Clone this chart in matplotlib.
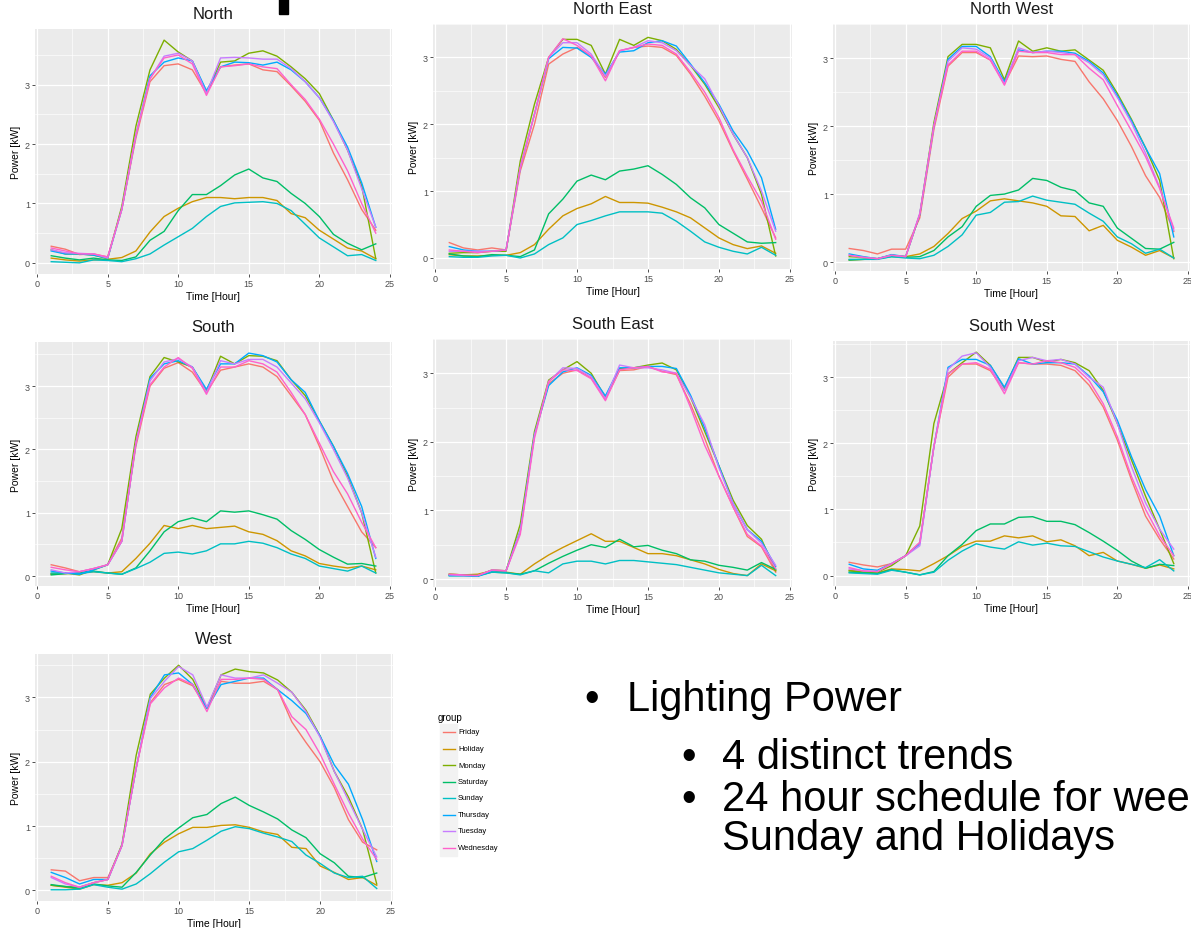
import numpy as np
import matplotlib
matplotlib.use("Agg")
import matplotlib.pyplot as plt
from matplotlib.lines import Line2D
from matplotlib.patches import Rectangle

plt.rcParams['font.family'] = ['Liberation Sans', 'DejaVu Sans']

hours = list(range(1, 25))
groups = ["Friday", "Holiday", "Monday", "Saturday", "Sunday", "Thursday", "Tuesday", "Wednesday"]
colors = ["#F8766D", "#CD9600", "#7CAE00", "#00BE67", "#00BFC4", "#00A9FF", "#C77CFF", "#FF61CC"]
panels = ["North", "North East", "North West", "South", "South East", "South West", "West"]
x_ticks = [0, 5, 10, 15, 20, 25]
y_ticks = [0, 1, 2, 3]

# ---- North ----
n_fri = [0.28,0.23,0.14,0.15,0.10,0.90,2.10,3.05,3.32,3.35,3.25,2.85,3.30,3.33,3.35,3.25,3.22,2.98,2.72,2.40,1.85,1.40,0.90,0.55]
n_hol = [0.08,0.05,0.03,0.05,0.06,0.09,0.20,0.52,0.78,0.92,1.03,1.10,1.10,1.08,1.10,1.10,1.05,0.83,0.76,0.55,0.40,0.25,0.20,0.07]
n_mon = [0.22,0.15,0.15,0.13,0.07,0.95,2.30,3.25,3.75,3.55,3.40,2.87,3.38,3.40,3.53,3.57,3.48,3.30,3.10,2.85,2.40,1.90,1.30,0.07]
n_sat = [0.12,0.08,0.05,0.08,0.05,0.04,0.10,0.38,0.53,0.88,1.15,1.15,1.30,1.48,1.58,1.43,1.37,1.17,1.00,0.78,0.48,0.33,0.22,0.32]
n_sun = [0.02,0.01,0.00,0.05,0.04,0.02,0.07,0.15,0.30,0.44,0.58,0.78,0.95,1.01,1.02,1.03,1.00,0.88,0.65,0.42,0.27,0.12,0.14,0.04]
n_thu = [0.20,0.15,0.15,0.13,0.08,0.90,2.15,3.15,3.38,3.45,3.40,2.90,3.30,3.38,3.37,3.33,3.38,3.25,3.05,2.78,2.40,1.95,1.35,0.60]
n_tue = [0.22,0.17,0.16,0.15,0.08,0.90,2.15,3.10,3.48,3.53,3.40,2.85,3.45,3.46,3.45,3.43,3.43,3.27,3.05,2.78,2.38,1.90,1.25,0.60]
n_wed = [0.25,0.20,0.15,0.15,0.10,0.90,2.15,3.10,3.45,3.50,3.35,2.82,3.30,3.32,3.35,3.30,3.27,3.00,2.75,2.42,2.00,1.55,1.00,0.50]

# ---- North East ----
ne_fri = [0.23,0.15,0.12,0.15,0.12,1.30,2.00,2.90,3.05,3.15,3.02,2.70,3.10,3.15,3.17,3.15,3.03,2.75,2.42,2.05,1.60,1.18,0.75,0.30]
ne_hol = [0.05,0.03,0.03,0.04,0.04,0.08,0.20,0.43,0.63,0.74,0.81,0.92,0.83,0.83,0.82,0.76,0.69,0.60,0.45,0.30,0.20,0.14,0.18,0.07]
ne_mon = [0.07,0.08,0.08,0.10,0.10,1.45,2.30,3.00,3.27,3.27,3.18,2.75,3.27,3.18,3.30,3.25,3.12,2.88,2.60,2.25,1.85,1.50,0.95,0.03]
ne_sat = [0.06,0.03,0.02,0.05,0.04,0.02,0.12,0.66,0.88,1.15,1.24,1.17,1.30,1.33,1.38,1.25,1.10,0.90,0.75,0.50,0.37,0.24,0.22,0.23]
ne_sun = [0.02,0.01,0.01,0.03,0.04,0.00,0.06,0.20,0.30,0.50,0.56,0.63,0.69,0.69,0.69,0.67,0.55,0.40,0.24,0.16,0.10,0.06,0.16,0.04]
ne_thu = [0.17,0.12,0.10,0.10,0.12,1.35,2.15,2.98,3.15,3.14,3.00,2.75,3.08,3.10,3.22,3.25,3.17,2.90,2.62,2.30,1.90,1.60,1.20,0.43]
ne_tue = [0.10,0.10,0.10,0.10,0.12,1.35,2.15,3.00,3.22,3.22,3.05,2.72,3.10,3.15,3.25,3.22,3.10,2.88,2.68,2.28,1.85,1.50,1.00,0.40]
ne_wed = [0.12,0.10,0.08,0.10,0.12,1.35,2.15,3.00,3.28,3.18,3.02,2.65,3.10,3.15,3.20,3.18,3.05,2.78,2.48,2.10,1.62,1.22,0.85,0.28]

# ---- North West ----
nw_fri = [0.20,0.17,0.12,0.19,0.19,0.65,1.95,2.88,3.08,3.08,2.97,2.62,3.03,3.02,3.03,2.98,2.95,2.65,2.40,2.08,1.70,1.27,0.95,0.45]
nw_hol = [0.03,0.04,0.05,0.10,0.08,0.12,0.23,0.42,0.64,0.75,0.90,0.93,0.90,0.87,0.82,0.68,0.67,0.46,0.54,0.32,0.22,0.10,0.17,0.06]
nw_mon = [0.08,0.07,0.05,0.10,0.08,0.70,2.05,3.02,3.20,3.20,3.15,2.68,3.25,3.10,3.15,3.10,3.12,2.97,2.82,2.48,2.10,1.68,1.20,0.05]
nw_sat = [0.03,0.04,0.05,0.08,0.07,0.08,0.17,0.37,0.52,0.82,0.98,1.00,1.06,1.23,1.20,1.10,1.05,0.87,0.82,0.50,0.35,0.20,0.19,0.29]
nw_sun = [0.04,0.04,0.04,0.08,0.06,0.05,0.10,0.23,0.40,0.69,0.73,0.88,0.89,0.97,0.91,0.88,0.85,0.72,0.60,0.37,0.27,0.13,0.19,0.06]
nw_thu = [0.12,0.08,0.05,0.11,0.08,0.70,2.00,2.98,3.17,3.17,3.02,2.65,3.12,3.08,3.10,3.10,3.07,2.95,2.78,2.45,2.08,1.68,1.30,0.37]
nw_tue = [0.10,0.07,0.05,0.10,0.08,0.72,2.00,2.95,3.15,3.13,3.00,2.62,3.15,3.08,3.10,3.08,3.05,2.93,2.75,2.42,2.05,1.60,1.10,0.47]
nw_wed = [0.10,0.07,0.05,0.10,0.08,0.70,2.00,2.90,3.10,3.10,2.97,2.60,3.10,3.08,3.08,3.05,3.05,2.85,2.68,2.30,1.93,1.55,1.08,0.50]

# ---- South ----
s_fri = [0.18,0.13,0.07,0.12,0.18,0.60,2.05,3.00,3.28,3.37,3.22,2.90,3.25,3.30,3.35,3.30,3.15,2.85,2.55,2.05,1.50,1.10,0.70,0.45]
s_hol = [0.03,0.04,0.05,0.07,0.05,0.07,0.28,0.52,0.80,0.75,0.80,0.75,0.77,0.79,0.70,0.66,0.56,0.40,0.32,0.20,0.16,0.13,0.16,0.10]
s_mon = [0.04,0.05,0.02,0.10,0.18,0.75,2.20,3.15,3.45,3.38,3.30,2.92,3.47,3.35,3.48,3.47,3.40,3.10,2.85,2.45,2.05,1.58,1.00,0.05]
s_sat = [0.02,0.04,0.06,0.08,0.05,0.03,0.13,0.40,0.70,0.86,0.92,0.86,1.03,1.01,1.03,0.97,0.90,0.72,0.58,0.42,0.30,0.19,0.20,0.16]
s_sun = [0.05,0.05,0.04,0.07,0.05,0.03,0.12,0.22,0.36,0.38,0.35,0.40,0.51,0.51,0.55,0.52,0.45,0.35,0.28,0.16,0.12,0.08,0.16,0.05]
s_thu = [0.08,0.05,0.03,0.10,0.18,0.55,2.10,3.12,3.35,3.40,3.30,2.95,3.35,3.35,3.52,3.48,3.38,3.10,2.90,2.45,2.05,1.62,1.10,0.28]
s_tue = [0.10,0.05,0.07,0.12,0.18,0.55,2.10,3.08,3.38,3.43,3.30,2.90,3.40,3.35,3.42,3.42,3.30,3.05,2.80,2.42,2.00,1.55,1.00,0.30]
s_wed = [0.14,0.10,0.07,0.12,0.18,0.55,2.10,3.02,3.30,3.45,3.28,2.87,3.30,3.30,3.40,3.35,3.22,2.90,2.55,2.10,1.65,1.30,0.85,0.45]

# ---- South East ----
se_fri = [0.06,0.06,0.05,0.13,0.12,0.70,2.10,2.85,3.00,3.05,2.93,2.62,3.04,3.05,3.10,3.03,2.98,2.55,2.05,1.50,1.05,0.62,0.47,0.10]
se_hol = [0.07,0.06,0.07,0.12,0.10,0.07,0.22,0.35,0.46,0.56,0.66,0.55,0.55,0.46,0.37,0.37,0.34,0.28,0.22,0.14,0.08,0.05,0.22,0.12]
se_mon = [0.07,0.06,0.05,0.13,0.12,0.80,2.15,2.90,3.05,3.17,3.00,2.65,3.07,3.08,3.12,3.15,3.05,2.65,2.15,1.65,1.15,0.78,0.58,0.12]
se_sat = [0.05,0.05,0.05,0.10,0.09,0.07,0.12,0.23,0.33,0.42,0.50,0.46,0.58,0.47,0.49,0.42,0.37,0.28,0.26,0.20,0.17,0.13,0.24,0.14]
se_sun = [0.05,0.05,0.04,0.10,0.09,0.06,0.12,0.09,0.22,0.26,0.26,0.22,0.27,0.27,0.25,0.23,0.21,0.17,0.13,0.09,0.07,0.05,0.20,0.05]
se_thu = [0.05,0.05,0.04,0.12,0.12,0.70,2.10,2.82,3.02,3.08,2.97,2.67,3.08,3.08,3.10,3.10,3.07,2.68,2.20,1.65,1.10,0.72,0.55,0.18]
se_tue = [0.06,0.05,0.05,0.13,0.12,0.70,2.10,2.88,3.08,3.07,2.95,2.63,3.12,3.08,3.08,3.05,3.00,2.65,2.25,1.62,1.10,0.72,0.52,0.20]
se_wed = [0.07,0.06,0.05,0.13,0.12,0.65,2.05,2.88,3.05,3.04,2.92,2.60,3.05,3.08,3.10,3.02,3.00,2.50,1.95,1.50,1.05,0.65,0.48,0.15]

# ---- South West ----
sw_fri = [0.20,0.16,0.13,0.18,0.30,0.50,1.95,3.00,3.20,3.20,3.10,2.80,3.22,3.20,3.20,3.18,3.10,2.88,2.55,2.05,1.45,0.90,0.55,0.25]
sw_hol = [0.08,0.06,0.04,0.10,0.09,0.07,0.18,0.30,0.44,0.52,0.52,0.60,0.57,0.60,0.51,0.54,0.45,0.30,0.35,0.22,0.17,0.11,0.16,0.10]
sw_mon = [0.07,0.05,0.05,0.15,0.30,0.75,2.30,3.05,3.22,3.38,3.18,2.83,3.30,3.30,3.23,3.27,3.22,3.10,2.80,2.30,1.75,1.20,0.70,0.18]
sw_sat = [0.05,0.04,0.03,0.09,0.05,0.01,0.06,0.30,0.47,0.68,0.78,0.78,0.88,0.89,0.82,0.82,0.77,0.65,0.52,0.38,0.22,0.11,0.17,0.15]
sw_sun = [0.04,0.03,0.02,0.08,0.05,0.01,0.05,0.23,0.37,0.48,0.43,0.40,0.51,0.46,0.49,0.45,0.44,0.36,0.28,0.22,0.17,0.12,0.24,0.07]
sw_thu = [0.17,0.10,0.08,0.18,0.30,0.48,1.95,3.15,3.27,3.27,3.18,2.85,3.28,3.20,3.22,3.22,3.20,3.02,2.78,2.35,1.80,1.30,0.90,0.30]
sw_tue = [0.10,0.07,0.06,0.18,0.30,0.45,1.95,3.12,3.32,3.37,3.15,2.80,3.25,3.30,3.25,3.27,3.20,3.00,2.85,2.30,1.65,1.10,0.70,0.40]
sw_wed = [0.12,0.07,0.06,0.18,0.30,0.50,1.95,3.05,3.20,3.22,3.12,2.75,3.22,3.20,3.25,3.22,3.15,2.95,2.60,2.10,1.50,1.00,0.60,0.30]

# ---- West ----
w_fri = [0.32,0.30,0.15,0.20,0.20,0.70,1.90,2.92,3.20,3.28,3.18,2.83,3.25,3.22,3.22,3.25,3.12,2.62,2.30,2.00,1.60,1.10,0.75,0.63]
w_hol = [0.08,0.05,0.02,0.09,0.08,0.12,0.27,0.57,0.75,0.88,0.98,0.98,1.01,1.02,0.98,0.91,0.87,0.67,0.65,0.38,0.28,0.17,0.20,0.08]
w_mon = [0.08,0.06,0.05,0.12,0.17,0.72,2.10,3.05,3.30,3.50,3.28,2.83,3.35,3.44,3.40,3.38,3.27,3.08,2.80,2.40,1.85,1.45,0.95,0.10]
w_sat = [0.09,0.06,0.03,0.10,0.07,0.05,0.28,0.55,0.80,0.97,1.13,1.18,1.35,1.45,1.32,1.22,1.11,0.94,0.82,0.57,0.43,0.22,0.20,0.27]
w_sun = [0.01,0.01,0.02,0.09,0.05,0.02,0.10,0.26,0.44,0.60,0.65,0.78,0.92,0.99,0.96,0.89,0.83,0.76,0.55,0.42,0.27,0.20,0.22,0.03]
w_thu = [0.28,0.20,0.10,0.17,0.17,0.70,1.90,3.00,3.35,3.38,3.20,2.83,3.20,3.25,3.30,3.30,3.12,2.95,2.75,2.40,1.95,1.65,1.10,0.45]
w_tue = [0.20,0.10,0.05,0.12,0.17,0.70,1.90,2.98,3.25,3.48,3.35,2.85,3.35,3.30,3.30,3.35,3.22,3.08,2.78,2.38,1.85,1.40,0.95,0.52]
w_wed = [0.22,0.12,0.05,0.12,0.17,0.70,1.90,2.90,3.15,3.30,3.20,2.78,3.28,3.28,3.30,3.28,3.12,2.70,2.50,2.12,1.65,1.20,0.80,0.48]

panel_data = {
    "North": [n_fri, n_hol, n_mon, n_sat, n_sun, n_thu, n_tue, n_wed],
    "North East": [ne_fri, ne_hol, ne_mon, ne_sat, ne_sun, ne_thu, ne_tue, ne_wed],
    "North West": [nw_fri, nw_hol, nw_mon, nw_sat, nw_sun, nw_thu, nw_tue, nw_wed],
    "South": [s_fri, s_hol, s_mon, s_sat, s_sun, s_thu, s_tue, s_wed],
    "South East": [se_fri, se_hol, se_mon, se_sat, se_sun, se_thu, se_tue, se_wed],
    "South West": [sw_fri, sw_hol, sw_mon, sw_sat, sw_sun, sw_thu, sw_tue, sw_wed],
    "West": [w_fri, w_hol, w_mon, w_sat, w_sun, w_thu, w_tue, w_wed],
}

W, H = 1191, 929
fig = plt.figure(figsize=(W / 100, H / 100), dpi=100)
fig.patch.set_facecolor("white")

# panel boxes in pixels: left, top, right, bottom
boxes = {
    "North": (35, 30, 392, 275),
    "North East": (433, 25, 792, 270),
    "North West": (833, 25, 1190, 272),
    "South": (35, 343, 392, 587),
    "South East": (433, 340, 792, 588),
    "South West": (833, 342, 1190, 587),
    "West": (35, 655, 393, 902),
}

def px_axes(l, t, r, b):
    return [l / W, 1 - b / H, (r - l) / W, (b - t) / H]

for name in panels:
    ax = fig.add_axes(px_axes(*boxes[name]))
    ax.set_facecolor("#EBEBEB")
    series = panel_data[name]
    for vals, col in zip(series, colors):
        ax.plot(hours, vals, color=col, lw=1.0, solid_joinstyle="round", zorder=3)
    allv = np.concatenate([np.asarray(v) for v in series])
    lo, hi = allv.min(), allv.max()
    ex = 0.05 * (hi - lo)
    ax.set_ylim(lo - ex, hi + ex)
    xe = 0.05 * (max(hours) - min(hours))
    ax.set_xlim(min(hours) - xe, max(hours) + xe)
    ax.set_xticks(x_ticks)
    ax.set_yticks(y_ticks)
    ax.set_xticks([t + 2.5 for t in x_ticks[:-1]], minor=True)
    ax.set_yticks([t + 0.5 for t in y_ticks], minor=True)
    ax.grid(which="major", color="white", lw=0.9, zorder=1)
    ax.grid(which="minor", color="white", lw=0.45, zorder=1)
    ax.set_axisbelow(True)
    for sp in ax.spines.values():
        sp.set_visible(False)
    ax.tick_params(which="major", length=2.2, width=0.6, color="#333333",
                   labelsize=6.5, labelcolor="#4D4D4D", pad=1.5)
    ax.tick_params(which="minor", length=0)
    ax.set_title(name, fontsize=12, color="#1A1A1A", pad=8)
    ax.set_xlabel("Time [Hour]", fontsize=7.5, color="black", labelpad=2)
    ax.set_ylabel("Power [kW]", fontsize=7.5, color="black", labelpad=3)

# small black mark at top
fig.patches.append(Rectangle((279 / W, 1 - 15 / H), 9 / W, 15 / H,
                             transform=fig.transFigure, color="black", zorder=5))

# legend
fig.text(438 / W, 1 - 718 / H, "group", fontsize=7, color="black", va="center", ha="left")
for i, (g, col) in enumerate(zip(groups, colors)):
    yc = 733 + i * 16.5
    fig.patches.append(Rectangle((440 / W, 1 - (yc + 8) / H), 17 / W, 16 / H,
                                 transform=fig.transFigure, color="#F2F2F2", zorder=1))
    fig.lines.append(Line2D([443 / W, 455 / W], [1 - yc / H, 1 - yc / H],
                            transform=fig.transFigure, color=col, lw=1.0))
    fig.text(458 / W, 1 - yc / H, g, fontsize=5.5, color="black", va="center", ha="left")

# bullet text
fs = 30
fig.text(584 / W, 1 - 711 / H, "\u2022", fontsize=fs, color="black", va="baseline")
fig.text(627 / W, 1 - 711 / H, "Lighting Power", fontsize=fs, color="black", va="baseline")
fig.text(681 / W, 1 - 769 / H, "\u2022", fontsize=fs, color="black", va="baseline")
fig.text(722 / W, 1 - 769 / H, "4 distinct trends", fontsize=fs, color="black", va="baseline")
fig.text(681 / W, 1 - 811 / H, "\u2022", fontsize=fs, color="black", va="baseline")
fig.text(722 / W, 1 - 811 / H, "24 hour schedule for wee", fontsize=fs, color="black", va="baseline")
fig.text(722 / W, 1 - 850 / H, "Sunday and Holidays", fontsize=fs, color="black", va="baseline")

fig.savefig("out.png", dpi=100)
